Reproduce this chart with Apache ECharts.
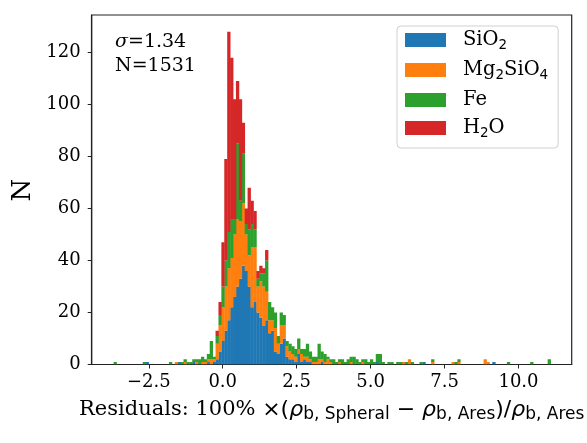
<!DOCTYPE html>
<html>
<head>
<meta charset="utf-8">
<script src="https://cdn.jsdelivr.net/npm/echarts@6/dist/echarts.min.js"></script>
<style>
  html, body { margin: 0; padding: 0; background: #fff; }
  #chart { width: 587px; height: 443px; }
</style>
</head>
<body>
<div id="chart"></div>
<script>
// histogram bins: left edge of bin 0 and bin width
const binStart = -3.69
const binWidth = 0.0985

const seriesNames = ["SiO2", "Mg2SiO4", "Fe", "H2O"]
const colors = ["#1f77b4", "#ff7f0e", "#2ca02c", "#d62728"]

// counts per bin (150 bins), stacked bottom to top
const sio2 = [
  0,0,0,0,0,0,0,0,0,0,
  0,1,0,0,0,0,0,0,0,0,
  0,0,1,0,0,0,0,1,0,0,
  0,0,1,0,1,2,5,9,13,17,
  22,26,30,33,38,36,30,22,24,20,
  18,15,17,12,13,5,4,8,10,3,
  2,2,1,4,1,2,1,1,0,0,
  0,1,0,0,0,0,0,0,0,0,
  0,0,0,0,0,0,0,0,0,0,
  1,0,0,0,0,0,0,0,0,0,
  0,0,0,0,0,0,1,0,0,0,
  0,0,0,0,0,0,0,0,0,0,
  0,0,0,0,0,0,0,0,0,0,
  1,0,0,0,0,0,0,0,0,0,
  0,0,0,0,0,0,0,0,0,0
]
const mg2sio4 = [
  0,0,0,0,0,0,0,0,0,0,
  0,0,0,0,0,0,0,0,0,0,
  0,1,0,0,1,0,0,0,1,0,
  1,1,1,2,1,6,10,13,17,20,
  19,24,26,22,24,14,12,23,21,10,
  14,15,11,5,4,9,4,7,5,4,
  3,2,2,2,3,1,2,1,1,1,
  2,1,1,2,1,0,0,1,0,0,
  0,1,0,0,0,1,0,0,0,0,
  0,0,0,0,0,0,0,0,0,1,
  0,2,0,0,0,0,0,0,0,1,
  0,0,0,0,0,0,1,0,1,0,
  0,0,0,0,0,0,0,2,1,0,
  0,0,0,0,0,0,0,0,0,0,
  0,0,0,0,0,0,0,0,0,0
]
const fe = [
  1,0,0,0,0,0,0,0,0,0,
  1,0,0,0,0,0,0,0,0,1,
  0,0,0,1,1,1,1,1,1,2,
  2,1,2,7,1,3,4,8,10,14,
  15,6,29,8,19,4,10,9,7,3,
  3,5,12,7,5,6,3,5,4,2,
  3,3,3,4,2,3,5,3,2,2,
  6,3,3,1,1,2,1,1,2,1,
  2,2,3,2,1,1,2,1,2,1,
  3,4,1,0,1,1,0,1,1,0,
  1,0,1,0,0,1,0,0,0,1,
  0,0,0,0,0,0,0,1,1,0,
  0,0,0,0,0,0,0,0,0,0,
  0,0,0,0,0,1,0,0,0,0,
  0,0,0,1,0,0,0,0,0,2
]
const h2o = [
  0,0,0,0,0,0,0,0,0,0,
  0,0,0,0,0,0,0,0,0,0,
  0,0,0,0,0,0,0,0,0,0,
  0,0,0,0,0,2,5,17,39,77,
  62,46,24,39,12,6,16,9,7,3,
  3,2,4,0,0,0,0,0,0,0,
  0,0,0,0,0,0,0,0,0,0,
  0,0,0,0,0,0,0,0,0,0,
  0,0,0,0,0,0,0,0,0,0,
  0,0,0,0,0,0,0,0,0,0,
  0,0,0,0,0,0,0,0,0,0,
  0,0,0,0,0,0,0,0,0,0,
  0,0,0,0,0,0,0,0,0,0,
  0,0,0,0,0,0,0,0,0,0,
  0,0,0,0,0,0,0,0,0,0
]

const xTicks = [-2.5, 0, 2.5, 5, 7.5, 10]
const yTicks = [0, 20, 40, 60, 80, 100, 120]

const layers = [sio2, mg2sio4, fe, h2o]
const legendRich = {
  SiO2: "{t|SiO}{s|2}",
  Mg2SiO4: "{t|Mg}{s|2}{t|SiO}{s|4}",
  Fe: "{t|Fe}",
  H2O: "{t|H}{s|2}{t|O}"
}

//把每一层做成自定义系列，底部等于下面各层之和
function buildSeries(idx) {
  const data = []
  layers[idx].forEach((v, k) => {
    if (!v) return
    let base = 0
    for (let j = 0; j < idx; j++) base += layers[j][k]
    const x0 = binStart + k * binWidth
    data.push([x0, x0 + binWidth, base, base + v])
  })
  return {
    name: seriesNames[idx],
    type: "custom",
    data: data,
    encode: { x: [0, 1], y: [2, 3] },
    itemStyle: { color: colors[idx] },
    clip: true,
    renderItem: (params, api) => {
      const p0 = api.coord([api.value(0), api.value(2)])
      const p1 = api.coord([api.value(1), api.value(3)])
      return {
        type: "rect",
        shape: {
          x: p0[0],
          y: p1[1],
          width: p1[0] - p0[0] + 0.4,
          height: p0[1] - p1[1]
        },
        style: { fill: colors[idx] }
      }
    }
  }
}

const fmt = v => (v < 0 ? "\u2212" + Math.abs(v).toFixed(1) : v.toFixed(1))

let option = {
  animation: false,
  backgroundColor: "#fff",
  grid: {
    left: 91.7,
    top: 15,
    width: 480,
    height: 349.5,
    show: true,
    borderColor: "#222",
    borderWidth: 1.2,
    backgroundColor: "transparent"
  },
  xAxis: {
    type: "value",
    min: -4.43,
    max: 11.8,
    axisLine: { show: true, onZero: false, lineStyle: { color: "#222", width: 1.2 } },
    axisTick: {
      show: true,
      customValues: xTicks,
      length: 4,
      lineStyle: { color: "#222", width: 1 }
    },
    axisLabel: {
      customValues: xTicks,
      formatter: fmt,
      margin: 9,
      color: "#000",
      fontFamily: "DejaVu Serif",
      fontSize: 18
    },
    splitLine: { show: false }
  },
  yAxis: {
    type: "value",
    min: 0,
    max: 134.4,
    axisLine: { show: true, onZero: false, lineStyle: { color: "#222", width: 1.2 } },
    axisTick: {
      show: true,
      customValues: yTicks,
      length: 4,
      lineStyle: { color: "#222", width: 1 }
    },
    axisLabel: {
      customValues: yTicks,
      margin: 11,
      color: "#000",
      fontFamily: "DejaVu Serif",
      fontSize: 18
    },
    splitLine: { show: false }
  },
  legend: {
    orient: "vertical",
    left: 397,
    top: 26,
    itemWidth: 41,
    itemHeight: 14,
    itemGap: 8,
    padding: [4, 10, 8, 8],
    borderColor: "#d0d0d0",
    borderWidth: 1,
    borderRadius: 4,
    backgroundColor: "rgba(255,255,255,0.8)",
    selectedMode: false,
    icon: "rect",
    data: seriesNames.map((n, i) => ({ name: n, itemStyle: { color: colors[i] } })),
    formatter: name => legendRich[name],
    textStyle: {
      padding: [0, 0, 0, 12],
      rich: {
        t: { fontFamily: "DejaVu Serif", fontSize: 19.5, lineHeight: 24, color: "#000" },
        s: { fontFamily: "DejaVu Sans", fontSize: 13.5, lineHeight: 13, color: "#000", verticalAlign: "bottom" }
      }
    }
  },
  graphic: [
    {
      type: "text",
      x: 115,
      y: 41.7,
      style: {
        text: "{i|σ}{n|=1.34}",
        verticalAlign: "middle",
        rich: {
          i: { fontFamily: "DejaVu Serif", fontStyle: "italic", fontSize: 19, fill: "#000" },
          n: { fontFamily: "DejaVu Serif", fontSize: 19, fill: "#000" }
        }
      }
    },
    {
      type: "text",
      x: 115,
      y: 65.7,
      style: {
        text: "N=1531",
        font: "19px 'DejaVu Serif'",
        fill: "#000",
        verticalAlign: "middle"
      }
    },
    {
      type: "text",
      x: 23,
      y: 190,
      rotation: Math.PI / 2,
      style: {
        text: "N",
        font: "26px 'DejaVu Serif'",
        fill: "#000",
        align: "center",
        verticalAlign: "middle"
      }
    },
    {
      type: "text",
      x: 79,
      y: 410,
      style: {
        text: "{n|Residuals: 100% }{m|×(}{r|ρ}{s|b, Spheral}{m| − }{r|ρ}{s|b, Ares}{m|)/}{r|ρ}{s|b, Ares}",
        verticalAlign: "middle",
        rich: {
          n: { fontFamily: "DejaVu Serif", fontSize: 21, lineHeight: 26, fill: "#000" },
          m: { fontFamily: "DejaVu Sans", fontSize: 22, lineHeight: 26, fill: "#000" },
          r: { fontFamily: "DejaVu Sans", fontStyle: "oblique", fontSize: 22, lineHeight: 26, fill: "#000" },
          s: { fontFamily: "DejaVu Sans", fontSize: 17, lineHeight: 15, fill: "#000", verticalAlign: "bottom" }
        }
      }
    }
  ],
  series: [0, 1, 2, 3].map(buildSeries)
}

let chartEl = echarts.init(document.getElementById("chart"))
chartEl.setOption(option)
</script>
</body>
</html>
